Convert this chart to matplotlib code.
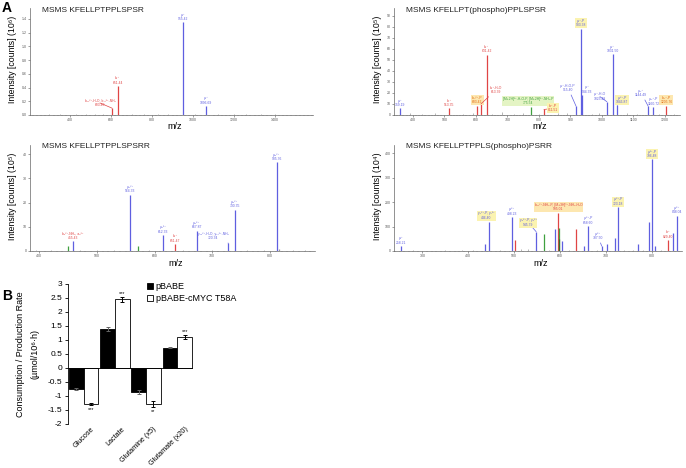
import matplotlib.pyplot as plt
import matplotlib.transforms as mtransforms
from matplotlib.ticker import MultipleLocator

plt.rcParams['font.family'] = ['Liberation Sans', 'DejaVu Sans']

BLUE = '#5f5fe0'
RED = '#e04545'
GREEN = '#3fa03f'
GREY = '#9a9a9a'
ORANGE = '#e06a10'
col = {'b': BLUE, 'r': RED, 'g': GREEN, 'k': GREY, 'd': '#2f6f2f'}
boxcol = {'y': '#fbf3b0', 'g': '#e4f4c4', 'o': '#fde7b0'}

# ---------------- panel A data ----------------
# spectrum 1 : KFELLPTPPLSPSR
p1_mz = [605, 632, 951, 1063]
p1_int = [0.10, 0.42, 1.35, 0.13]
p1_col = ['r', 'r', 'b', 'b']
p1_minor_mz = [300, 350, 430, 480, 520, 560, 700, 760, 830, 880, 1010, 1120, 1200, 1260, 1330, 1400]
p1_minor_int = [0.01, 0.01, 0.015, 0.01, 0.01, 0.02, 0.015, 0.01, 0.01, 0.015, 0.02, 0.015, 0.01, 0.01, 0.01, 0.01]
p1_lab = ['b₁₂²⁺-H₂O, b₁₂²⁺-NH₃\n603.40', 'b₆⁺\n651.44', 'y₇⁺\n955.42', 'y₉⁺\n1096.69']
p1_box = [None, None, None, None]

# spectrum 2 : KFELLPT(phospho)PPLSPSR
p2_mz = [359, 516, 605, 616, 634, 775, 816, 918, 935, 938, 1016, 1034, 1049, 1147, 1163, 1205]
p2_int = [6, 6, 8, 10, 54.5, 7, 5, 8, 78, 18, 12, 55, 9, 8, 7, 8]
p2_col = ['b', 'r', 'r', 'r', 'r', 'g', 'r', 'b', 'b', 'b', 'b', 'b', 'b', 'b', 'b', 'r']
p2_minor_mz = [390, 430, 470, 560, 590, 650, 682, 720, 750, 800, 860, 890, 970, 990, 1080, 1110, 1180, 1230]
p2_minor_int = [2, 1, 1.5, 1, 2, 1, 3, 1, 2, 1, 1.5, 2, 1, 2, 1.5, 1, 1, 1]
p2_lab = ['y₂⁺\n359.19', 'b₄⁺\n513.35', 'b₁₀²⁺-P\n603.42', 'b₆⁺-H₂O\n613.39', 'b₆⁺\n631.42',
          '[M+2H]²⁺-H₂O-P, [M+2H]²⁺-NH₃-P\n775.54', 'b₇⁺-P\n811.51', 'y₈⁺-H₂O-P\n915.40',
          'y₈⁺-P\n933.38', 'y₈⁺\n934.33', 'y₉⁺-H₂O\n1023.48', 'y₉⁺\n1031.50', 'y₉²⁺-P\n1046.87',
          'y₁₀⁺\n1144.49', 'y₁₀⁺-P\n1160.72', 'b₁₁⁺-P\n1205.76']
p2_labcol = ['b', 'r', ORANGE, 'r', 'r', 'g', 'r', 'b', 'b', 'b', 'b', 'b', 'b', 'b', 'b', ORANGE]
p2_box = [None, None, 'o', None, None, 'g', 'y', None, 'y', None, None, None, 'y', None, None, 'o']

# spectrum 3 : KFELLPTPPLSPSRR
p3_mz = [450, 458, 558, 572, 615, 636, 673, 728, 738.5, 812, 815]
p3_int = [2, 4.1, 23.2, 2, 6.6, 2.8, 8.3, 3.2, 17, 36.6, 1]
p3_col = ['g', 'b', 'b', 'g', 'b', 'r', 'b', 'b', 'b', 'b', 'k']
p3_minor_mz = [395, 420, 470, 500, 530, 590, 650, 700, 760, 790, 840, 860]
p3_minor_int = [0.3, 0.4, 0.3, 0.5, 0.3, 0.4, 0.5, 0.3, 0.4, 0.3, 0.4, 0.3]
p3_lab = [None, 'b₈²⁺-NH₃, a₈²⁺\n455.43', 'y₁₀²⁺\n564.33', None, 'y₁₁²⁺\n612.33', 'b₆⁺\n651.47',
          'y₁₂²⁺\n667.87', 'y₁₃²⁺-H₂O, y₁₃²⁺-NH₃\n720.34', 'y₁₃²⁺\n730.35', 'y₁₆²⁺\n905.76', None]
p3_labcol = [None, 'r', 'b', None, 'b', 'r', 'b', 'b', 'b', 'b', None]

# spectrum 4 : KFELLPTPPLS(phospho)PSRR
p4_mz = [253.5, 437, 446, 495, 502, 548, 564, 588, 596.5, 597, 598, 605, 634, 653, 662, 691,
         702, 719, 727, 769, 793, 801.5, 807, 836, 846, 854.5]
p4_int = [20, 27, 120, 138, 45, 79, 68, 89, 157, 96, 48, 41, 89, 20, 102, 20,
          27, 52, 179, 29, 120, 375, 20, 45, 75, 145]
p4_col = ['b', 'b', 'b', 'b', 'r', 'b', 'g', 'b', 'r', 'g', 'd', 'b', 'r', 'b', 'b', 'b',
          'b', 'b', 'b', 'b', 'b', 'b', 'b', 'r', 'b', 'b']
p4_minor_mz = [280, 310, 350, 386, 410, 470, 516, 530, 575, 620, 680, 740, 760, 780, 820]
p4_minor_int = [3, 2, 4, 5, 3, 6, 10, 8, 6, 5, 6, 4, 6, 5, 4]
p4_lab = {0: 'y₂⁺\n258.21', 2: 'y₄²⁺-P, y₇²⁺\n446.40', 3: 'y₄²⁺\n498.23',
          5: 'y₅²⁺-P, y₉²⁺\n545.79', 8: 'b₁₂²⁺-NH₃-P, [M+3H]³⁺-NH₃-H₂O\n595.01',
          14: 'y₅²⁺-P\n658.60', 15: 'y₆²⁺\n707.50', 18: 'y₆²⁺-P\n723.18',
          21: 'y₇²⁺-P\n796.48', 23: 'b₇⁺\n829.40', 25: 'y₈²⁺\n848.04'}
p4_box = {2: 'y', 5: 'y', 8: 'o', 18: 'y', 21: 'y'}

# ---------------- panel B data ----------------
categories = ['Glucose', 'Lactate', 'Glutamine (x5)', 'Glutamate (x20)']
pbabe = [-0.76, 1.40, -0.86, 0.73]
pbabe_err = [0.03, 0.08, 0.06, 0.01]
myc = [-1.29, 2.45, -1.29, 1.12]
myc_err = [0.04, 0.10, 0.12, 0.07]
signif = ['***', '***', '**', '***']

W, H = 686, 468
fig = plt.figure(figsize=(6.86, 4.68), dpi=100)


def add_ax(l, t, r, b):
    return fig.add_axes([l / W, 1 - b / H, (r - l) / W, (b - t) / H])


def ftxt(x, y, s, **kw):
    fig.text(x / W, 1 - y / H, s, **kw)


def spectrum(rect, xlim, ylim, xmaj, ymaj, mz, inten, cols, mmz, mint, title, ylab):
    ax = add_ax(*rect)
    ax.vlines(mmz, 0, mint, colors=GREY, lw=0.5)
    ax.vlines(mz, 0, inten, colors=[col[c] for c in cols], lw=0.9)
    ax.set_xlim(*xlim)
    ax.set_ylim(*ylim)
    for s in ['top', 'right']:
        ax.spines[s].set_visible(False)
    for s in ['left', 'bottom']:
        ax.spines[s].set_color('#666666')
        ax.spines[s].set_linewidth(0.5)
    ax.xaxis.set_major_locator(MultipleLocator(xmaj))
    ax.xaxis.set_minor_locator(MultipleLocator(xmaj / 10))
    ax.yaxis.set_major_locator(MultipleLocator(ymaj))
    ax.tick_params(labelsize=2.5, length=1.5, width=0.4, colors='#555555', pad=1)
    ax.tick_params(which='minor', length=1, width=0.3, colors='#777777')
    l, t, r, b = rect
    ftxt(l + 12, t + 2, title, fontsize=6, va='center', color='#222222')
    ftxt(l - 17, (t + b) / 2 - 2, ylab, fontsize=6.3, rotation=90, va='center', ha='center')
    ftxt((l + r) / 2 + 3, b + 12, 'm/z', fontsize=6.5, ha='center', va='center')
    return ax


def label(ax, x, y, s, c, box=None, dx=0, dy=1.5, line=False):
    bb = None
    if box:
        bb = dict(boxstyle='square,pad=0.25', fc=boxcol[box], ec='none')
    ap = None
    if line:
        ap = dict(arrowstyle='-', lw=0.5, color=c, shrinkA=0, shrinkB=0)
    ax.annotate(s, xy=(x, y), xytext=(dx * 0.72, dy * 0.72), textcoords='offset points',
                ha='center', va='bottom', fontsize=2.4, color=c, bbox=bb,
                arrowprops=ap, linespacing=1.1)


# spectrum 1
ax1 = spectrum((30, 8, 313, 115), (205, 1585), (0, 1.56), 200, 0.2, p1_mz, p1_int, p1_col,
               p1_minor_mz, p1_minor_int, 'MSMS KFELLPTPPLSPSR', 'Intensity [counts] (10⁶)')
ax1.yaxis.set_major_formatter(lambda v, p: '%.1f' % v)
p1_off = [(-12, 1, True), (0, 1.5, False), (0, 1.5, False), (0, 1.5, False)]
for i in range(len(p1_mz)):
    dx, dy, ln = p1_off[i]
    label(ax1, p1_mz[i], p1_int[i], p1_lab[i], col[p1_col[i]], p1_box[i], dx, dy, ln)

# spectrum 2
ax2 = spectrum((394, 8, 680, 115), (340, 1248), (0, 97), 100, 10, p2_mz, p2_int, p2_col,
               p2_minor_mz, p2_minor_int, 'MSMS KFELLPT(phospho)PPLSPSR', 'Intensity [counts] (10⁵)')
p2_off = [(0, 1.5, False), (0, 1.5, False), (0, 2, False), (15, 10, True), (0, 1.5, False),
          (-3, 2, False), (9, -3, True), (-8, 14, True), (0, 2, False), (5, 1.5, False),
          (-7, 1, True), (0, 1.5, False), (5, 1, True), (-7, 9, True), (0, 1.5, False), (0, 2, False)]
for i in range(len(p2_mz)):
    c = p2_labcol[i]
    c = col.get(c, c)
    dx, dy, ln = p2_off[i]
    label(ax2, p2_mz[i], p2_int[i], p2_lab[i], c, p2_box[i], dx, dy, ln)

# spectrum 3
ax3 = spectrum((30, 145, 315, 251), (384, 878), (0, 43.8), 100, 10, p3_mz, p3_int, p3_col,
               p3_minor_mz, p3_minor_int, 'MSMS KFELLPTPPLSPSRR', 'Intensity [counts] (10⁵)')
for i in range(len(p3_mz)):
    if p3_lab[i] is None:
        continue
    if i == 7:
        label(ax3, p3_mz[i], p3_int[i], p3_lab[i], col[p3_labcol[i]], None, -15, 3, True)
    else:
        label(ax3, p3_mz[i], p3_int[i], p3_lab[i], col[p3_labcol[i]])

# spectrum 4
ax4 = spectrum((394, 145, 682, 251), (238, 866), (0, 434), 100, 100, p4_mz, p4_int, p4_col,
               p4_minor_mz, p4_minor_int, 'MSMS KFELLPTPPLS(phospho)PSRR', 'Intensity [counts] (10⁴)')
p4_off = {2: (-3, 2, False), 5: (-8, 5, True), 15: (-4, 6, True)}
for i, s in p4_lab.items():
    dx, dy, ln = p4_off.get(i, (0, 1.5, False))
    c = RED if p4_col[i] == 'r' else BLUE
    label(ax4, p4_mz[i], p4_int[i], s, c, p4_box.get(i), dx, dy, ln)

# ---------------- panel B ----------------
axb = add_ax(68, 284, 193, 424)
x = list(range(len(categories)))
bw = 0.47
xb = [i - bw / 2 for i in x]
xw = [i + bw / 2 for i in x]
axb.bar(xb, pbabe, bw, color='black', edgecolor='black', lw=0.6, label='pBABE')
axb.bar(xw, myc, bw, color='white', edgecolor='black', lw=0.6, label='pBABE-cMYC T58A')
axb.errorbar(xb, pbabe, yerr=pbabe_err, fmt='none', ecolor='#666666', elinewidth=0.7, capsize=1.5, capthick=0.7)
axb.errorbar(xw, myc, yerr=myc_err, fmt='none', ecolor='black', elinewidth=0.7, capsize=1.5, capthick=0.7)
for i in x:
    if myc[i] > 0:
        axb.text(xw[i], myc[i] + myc_err[i] + 0.03, signif[i], ha='center', va='bottom', fontsize=4)
    else:
        axb.text(xw[i], myc[i] - myc_err[i] - 0.05, signif[i], ha='center', va='top', fontsize=4)
axb.axhline(0, color='black', lw=0.6)
axb.set_xlim(-0.5, 3.5)
axb.set_ylim(-2, 3)
axb.yaxis.set_major_locator(MultipleLocator(0.5))
axb.yaxis.set_major_formatter(lambda v, p: '%g' % v)
for s in ['top', 'right', 'bottom']:
    axb.spines[s].set_visible(False)
axb.spines['left'].set_linewidth(0.6)
axb.tick_params(axis='y', labelsize=6, length=2, width=0.6, pad=2)
axb.set_xticks(x)
axb.set_xticklabels(categories, rotation=45, ha='right', rotation_mode='anchor', fontsize=5.2)
axb.tick_params(axis='x', length=0, pad=1)
shift = mtransforms.ScaledTranslation(7 / 100, 0, fig.dpi_scale_trans)
for t in axb.get_xticklabels():
    t.set_transform(t.get_transform() + shift)
axb.set_ylabel('Consumption / Production Rate\n(µmol/10⁶·h)', fontsize=6.5, labelpad=6, linespacing=1.8)
axb.legend(loc='upper left', bbox_to_anchor=(0.6, 1.04), frameon=False, fontsize=6.5,
           handlelength=0.7, handleheight=0.7, handletextpad=0.3, borderaxespad=0, labelspacing=0.35)

ftxt(7, 8, 'A', fontsize=10, fontweight='bold', va='center', ha='center')
ftxt(7, 296, 'B', fontsize=10, fontweight='bold', va='center', ha='center')

fig.savefig('out.png', dpi=100)
